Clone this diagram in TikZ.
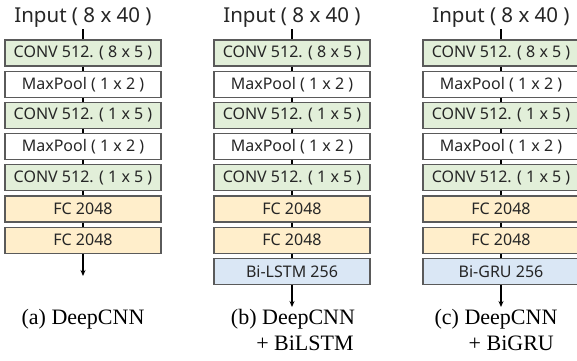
\documentclass[tikz,border=0pt]{standalone}
\usepackage{fontspec}
\setmainfont{Liberation Serif}
\newfontfamily\boxfont{Noto Sans}
\usetikzlibrary{arrows.meta}
\definecolor{convg}{HTML}{E2EFD9}
\definecolor{fcy}{HTML}{FFEECB}
\definecolor{rnnb}{HTML}{DAE7F5}
\definecolor{edgeg}{HTML}{5A5A5A}
\tikzset{
  blk/.style={draw=edgeg, line width=1.2pt, minimum width=156pt, minimum height=26pt, inner sep=0pt, font=\boxfont\fontsize{16}{18}\selectfont, text=black!85},
  conv/.style={blk, fill=convg},
  pool/.style={blk, fill=white},
  fc/.style={blk, fill=fcy},
  rnn/.style={blk, fill=rnnb},
  inlab/.style={font=\boxfont\fontsize{20.5}{22}\selectfont, text=black!85, inner sep=1pt},
  captxt/.style={font=\fontsize{22}{26}\selectfont, align=left, inner sep=0pt},
  link/.style={line width=1.6pt, black},
  outarr/.style={line width=1.6pt, black, -{Stealth[length=6pt,width=5pt]}}
}
\begin{document}
\begin{tikzpicture}[x=1pt,y=-1pt]
\useasboundingbox[fill=white] (0,0) rectangle (577,360);
\foreach \c/\cx in {a/83, b/292, c/501}{
  \node[inlab] (in\c) at (\cx,18) {Input ( 8 x 40 )};
  \node[conv] (c1\c) at (\cx,53) {CONV 512. ( 8 x 5 )};
  \node[pool] (p1\c) at (\cx,84.2) {MaxPool ( 1 x 2 )};
  \node[conv] (c2\c) at (\cx,115.4) {CONV 512. ( 1 x 5 )};
  \node[pool] (p2\c) at (\cx,146.6) {MaxPool ( 1 x 2 )};
  \node[conv] (c3\c) at (\cx,177.8) {CONV 512. ( 1 x 5 )};
  \node[fc] (f1\c) at (\cx,209) {FC 2048};
  \node[fc] (f2\c) at (\cx,240.2) {FC 2048};
  \draw[link] (in\c.south) -- (c1\c.north);
  \draw[link] (c1\c.south) -- (p1\c.north);
  \draw[link] (p1\c.south) -- (c2\c.north);
  \draw[link] (c2\c.south) -- (p2\c.north);
  \draw[link] (p2\c.south) -- (c3\c.north);
  \draw[link] (c3\c.south) -- (f1\c.north);
  \draw[link] (f1\c.south) -- (f2\c.north);
}
\node[rnn] (rb) at (292,271.4) {Bi-LSTM 256};
\node[rnn] (rc) at (501,271.4) {Bi-GRU 256};
\draw[link] (f2b.south) -- (rb.north);
\draw[link] (f2c.south) -- (rc.north);
\coordinate (ea) at (83,276);
\coordinate (eb) at (292,307);
\coordinate (ec) at (501,307);
\draw[outarr] (f2a.south) -- (ea);
\draw[outarr] (rb.south) -- (eb);
\draw[outarr] (rc.south) -- (ec);
\node[captxt, anchor=north] (ca) at (83,309) {(a) DeepCNN};
\node[captxt, anchor=north] (cb) at (293,309) {(b) DeepCNN\\\hspace*{1.15em}+ BiLSTM};
\node[captxt, anchor=north] (cc) at (496,309) {(c) DeepCNN\\\hspace*{1.55em}+ BiGRU};
\end{tikzpicture}
\end{document}
